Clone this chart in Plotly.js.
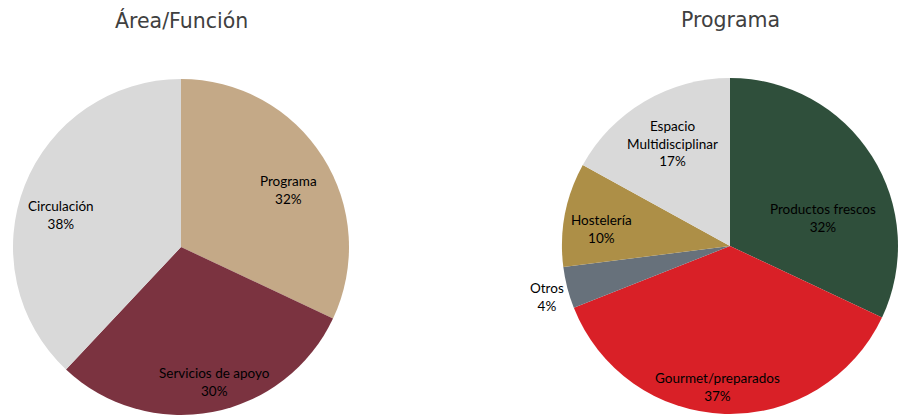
<!DOCTYPE html>
<html><head><meta charset="utf-8">
<script src="https://cdn.plot.ly/plotly-3.0.1.min.js"></script>
<style>html,body{margin:0;padding:0;background:#fff;}#c{width:898px;height:418px;}</style>
</head><body><div id="c"></div>
<script>
const leftTitle = 'Área/Función';
const leftLabels = ['Programa', 'Servicios de apoyo', 'Circulación'];
const leftValues = [32, 30, 38];
const leftColors = ['#C4A987', '#7B3340', '#D9D9D9'];

const rightTitle = 'Programa';
const rightLabels = ['Productos frescos', 'Gourmet/preparados', 'Otros', 'Hostelería', 'Espacio<br>Multidisciplinar'];
const rightValues = [32, 37, 4, 10, 17];
const rightColors = ['#2F4F3B', '#D92027', '#67717B', '#AD8F47', '#D9D9D9'];

// label placement style (fraction of radius along slice mid-angle, plus pixel nudge)
const leftLabelRadius = [0.74, 0.82, 0.75];
const leftLabelShift = [[3, -10], [8, 0], [-3, -14]];
const rightLabelRadius = [0.62, 0.84, 1.13, 0.78, 0.71];
const rightLabelShift = [[5, -28], [-8, 0], [1, -4], [0, -8], [3, 0]];

const W = 898, H = 418;
const leftDomain = {x: [13/W, 349/W], y: [3/H, 339/H]};
const rightDomain = {x: [562/W, 1], y: [4/H, 340/H]};

const labelFont = {family: 'Lato, "Open Sans", sans-serif', size: 13.5, color: '#000'};

function pieTrace(labels, values, colors, domain) {
  return {
    type: 'pie', labels: labels, values: values, sort: false, direction: 'clockwise', rotation: 0,
    marker: {colors: colors, line: {width: 0}}, textinfo: 'none', hoverinfo: 'none',
    domain: domain, showlegend: false
  };
}

function labelAnnotations(labels, values, domain, radii, shifts) {
  const x0 = domain.x[0]*W, x1 = domain.x[1]*W;
  const y0 = (1-domain.y[1])*H, y1 = (1-domain.y[0])*H;
  const cx = (x0+x1)/2, cy = (y0+y1)/2;
  const r = Math.min(x1-x0, y1-y0)/2;
  const total = values.reduce((a,b)=>a+b, 0);
  let cum = 0;
  return labels.map((lab, i) => {
    const mid = (cum + values[i]/2) / total * 2 * Math.PI;
    cum += values[i];
    const px = cx + radii[i]*r*Math.sin(mid);
    const py = cy - radii[i]*r*Math.cos(mid);
    return {
      text: lab + '<br>' + Math.round(values[i]/total*100) + '%',
      x: px/W, y: 1 - py/H, xref: 'paper', yref: 'paper', showarrow: false,
      xshift: shifts[i][0], yshift: shifts[i][1],
      xanchor: 'center', yanchor: 'middle', font: labelFont, align: 'center'
    };
  });
}

const traces = [
  pieTrace(leftLabels, leftValues, leftColors, leftDomain),
  pieTrace(rightLabels, rightValues, rightColors, rightDomain)
];

const titleFont = {family: '"DejaVu Sans", sans-serif', size: 20.5, color: '#404040'};
const layout = {
  width: W, height: H, margin: {l: 0, r: 0, t: 0, b: 0},
  paper_bgcolor: '#fff', showlegend: false,
  annotations: [
    {text: leftTitle, x: 181/W, y: 1 - 20/H, xref: 'paper', yref: 'paper', showarrow: false, font: titleFont, xanchor: 'center', yanchor: 'middle'},
    {text: rightTitle, x: 730/W, y: 1 - 20/H, xref: 'paper', yref: 'paper', showarrow: false, font: titleFont, xanchor: 'center', yanchor: 'middle'}
  ].concat(labelAnnotations(leftLabels, leftValues, leftDomain, leftLabelRadius, leftLabelShift))
   .concat(labelAnnotations(rightLabels, rightValues, rightDomain, rightLabelRadius, rightLabelShift))
};
Plotly.newPlot('c', traces, layout, {displayModeBar: false, staticPlot: true});
</script></body></html>
